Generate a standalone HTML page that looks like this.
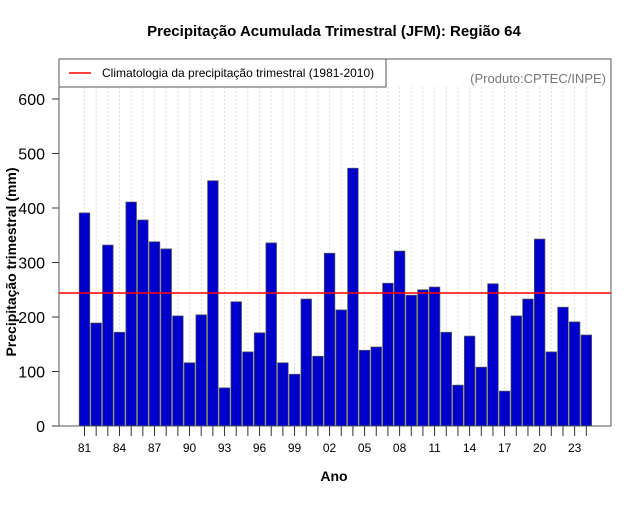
<!DOCTYPE html>
<html><head><meta charset="utf-8"><style>
body{margin:0;background:#fff;}
svg text{font-family:"Liberation Sans",sans-serif;}
</style></head><body>
<svg id="chart" width="640" height="500" xmlns="http://www.w3.org/2000/svg">
<text x="334" y="36" text-anchor="middle" font-size="15" font-weight="bold">Precipitação Acumulada Trimestral (JFM): Região 64</text>
<text x="334" y="481" text-anchor="middle" font-size="14" font-weight="bold">Ano</text>
<text transform="translate(16,262) rotate(-90)" text-anchor="middle" font-size="14" font-weight="bold">Precipitação trimestral (mm)</text>
<g id="grid"></g><g id="bars"></g><g id="axes"></g>
<rect x="59" y="59" width="552" height="367" fill="none" stroke="#555" stroke-width="1"/>
<g>
<rect x="59" y="59" width="327" height="28" fill="#fff" stroke="#555"/>
<line x1="69" y1="73" x2="91" y2="73" stroke="#f00" stroke-width="1.5"/>
<text x="102" y="77" font-size="12">Climatologia da precipitação trimestral (1981-2010)</text>
</g>
<text x="606" y="83" text-anchor="end" font-size="13" fill="#777">(Produto:CPTEC/INPE)</text>
</svg>
<script>
const years=[81,82,83,84,85,86,87,88,89,90,91,92,93,94,95,96,97,98,99,0,1,2,3,4,5,6,7,8,9,10,11,12,13,14,15,16,17,18,19,20,21,22,23,24];
const values=[391,189,332,172,411,378,338,325,202,116,204,450,70,228,136,171,336,116,95,233,128,317,213,473,139,145,262,321,240,250,255,172,75,165,108,261,64,202,233,343,136,218,191,167];
const climatology=[244];
const yTicks=[0,100,200,300,400,500,600];
const NS="http://www.w3.org/2000/svg";
const svg=document.getElementById('chart');
const gG=document.getElementById('grid'),gB=document.getElementById('bars'),gA=document.getElementById('axes');
const xS=i=>84.5+i*11.67;
const yS=v=>426-v*0.545;
function mk(tag,attrs,parent){const e=document.createElementNS(NS,tag);for(const k in attrs)e.setAttribute(k,attrs[k]);parent.appendChild(e);return e;}
years.forEach((y,i)=>{
  const g=mk('line',{x1:xS(i),x2:xS(i),y1:87,y2:426,stroke:'#ddd','stroke-dasharray':'2,2'},gG);
  
  
  const b=mk('rect',{x:xS(i)-5.3,y:yS(values[i]),width:10.6,height:426-yS(values[i]),fill:'#0000cd',stroke:'#555','stroke-width':0.7},gB);
  
  
  const t=mk('line',{x1:xS(i),x2:xS(i),y1:426,y2:436,stroke:'#333'},gA);
  
  
  if(i%3===0){
    const l=mk('text',{x:xS(i),y:452,'text-anchor':'middle','font-size':12},gA);
    l.textContent=String(y).padStart(2,'0');
    
    
  }
});
yTicks.forEach(v=>{
  const t=mk('line',{x1:52,x2:59,y1:yS(v),y2:yS(v),stroke:'#333'},gA);
  
  
  const l=mk('text',{x:45,y:yS(v)+6,'text-anchor':'end','font-size':16},gA);
  l.textContent=v;
  
  
});
const c=mk('line',{x1:59,x2:611,y1:yS(climatology[0]),y2:yS(climatology[0]),stroke:'#f00','stroke-width':1.5},svg);


</script>
</body></html>
